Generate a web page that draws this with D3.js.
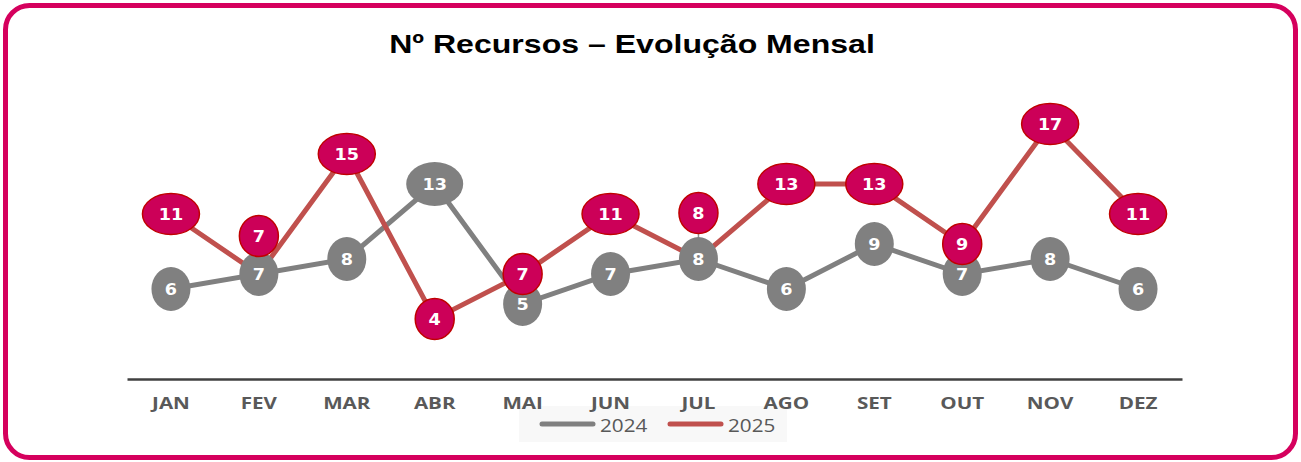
<!DOCTYPE html>
<html>
<head>
<meta charset="utf-8">
<script src="https://cdn.jsdelivr.net/npm/d3@7"></script>
<style>
  html, body { margin: 0; padding: 0; background: #fff; }
  svg { display: block; }
</style>
</head>
<body>
<div id="chart"></div>
<script>
// data
const months = ["JAN", "FEV", "MAR", "ABR", "MAI", "JUN", "JUL", "AGO", "SET", "OUT", "NOV", "DEZ"];
const values2024 = [6, 7, 8, 13, 5, 7, 8, 6, 9, 7, 8, 6];
const values2025 = [11, 7, 15, 4, 7, 11, 8, 13, 13, 9, 17, 11];
const seriesNames = ["2024", "2025"];
const chartTitle = "Nº Recursos – Evolução Mensal";

// labels that were dragged off their point in the original (px upward shift)
const labelShift2025 = { FEV: -38, JUL: -46 };

const width = 1301, height = 462;
const svg = d3.select("#chart").append("svg")
    .attr("width", width)
    .attr("height", height);

// frame
svg.append("rect")
    .attr("x", 5.5).attr("y", 5.5)
    .attr("width", width - 11).attr("height", height - 10)
    .attr("rx", 24).attr("ry", 24)
    .attr("fill", "#fff")
    .attr("stroke", "#d5005d")
    .attr("stroke-width", 5);

// the original picture is stretched sideways, so texts get a small x scale
svg.append("text")
    .attr("transform", "translate(632,53) scale(1.21,1)")
    .attr("text-anchor", "middle")
    .attr("font-family", "Liberation Sans, Arial, sans-serif")
    .attr("font-weight", "bold")
    .attr("font-size", 26.5)
    .attr("fill", "#000")
    .text(chartTitle);

let x = d3.scaleBand().domain(months).range([127, 1182]);
let y = d3.scaleLinear().domain([0, 20]).range([379, 79]);
let cx = d => x(d) + x.bandwidth() / 2;

// legend box first, month labels show through on top of it
let legend = svg.append("g");
legend.append("rect")
    .attr("x", 519).attr("y", 406).attr("width", 268).attr("height", 36)
    .attr("fill", "#f8f8f8");

// category axis
let axis = svg.append("g")
    .attr("transform", "translate(0,379)")
    .call(d3.axisBottom(x).tickSize(0).tickPadding(0));
axis.select(".domain").attr("stroke", "#404040").attr("stroke-width", 2.5);
axis.selectAll("text")
    .attr("dy", null)
    .attr("y", 30.5)
    .attr("transform", "scale(1.25,1)")
    .attr("font-family", "Open Sans, sans-serif")
    .attr("font-weight", "bold")
    .attr("font-size", 16.5)
    .attr("fill", "#595959");

let data24 = months.map((m, i) => ({ m: m, v: values2024[i] }));
let data25 = months.map((m, i) => ({ m: m, v: values2025[i] }));

let line = d3.line().x(d => cx(d.m)).y(d => y(d.v));

svg.append("path").datum(data24)
    .attr("d", line).attr("fill", "none")
    .attr("stroke", "#808080").attr("stroke-width", 5);
svg.append("path").datum(data25)
    .attr("d", line).attr("fill", "none")
    .attr("stroke", "#c0504d").attr("stroke-width", 5);

// leader line for the label that sits far from its point
svg.selectAll(".leader")
    .data(data25.filter(d => labelShift2025[d.m] && labelShift2025[d.m] < -40))
    .enter().append("line")
    .attr("x1", d => cx(d.m)).attr("x2", d => cx(d.m))
    .attr("y1", d => y(d.v) + labelShift2025[d.m] + 20)
    .attr("y2", d => y(d.v) - 18)
    .attr("stroke", "#909090").attr("stroke-width", 1.5);

function labels(data, cls, fill, stroke, ry, shift) {
    let g = svg.selectAll("." + cls).data(data).enter().append("g")
        .attr("class", cls)
        .attr("transform", d => `translate(${cx(d.m)},${y(d.v) + (shift[d.m] || 0)})`);
    g.append("ellipse")
        .attr("rx", d => String(d.v).length > 1 ? 28.5 : 19.5)
        .attr("ry", ry)
        .attr("fill", fill)
        .attr("stroke", stroke)
        .attr("stroke-width", stroke == "none" ? 0 : 1.5);
    g.append("text")
        .attr("y", 6)
        .attr("transform", "scale(1.1,1)")
        .attr("text-anchor", "middle")
        .attr("font-family", "DejaVu Sans, Verdana, sans-serif")
        .attr("font-weight", "bold")
        .attr("font-size", 16)
        .attr("fill", "#fff")
        .text(d => d.v);
}

labels(data24, "l24", "#808080", "none", 22, {});
labels(data25, "l25", "#cc0058", "#c00000", 20.5, labelShift2025);

// legend entries
let legendColors = ["#808080", "#c0504d"];
let lx = d3.scalePoint().domain(seriesNames).range([540, 668]);
seriesNames.forEach((s, i) => {
    legend.append("line")
        .attr("x1", lx(s) + 2).attr("x2", lx(s) + 53)
        .attr("y1", 424).attr("y2", 424)
        .attr("stroke", legendColors[i]).attr("stroke-width", 5)
        .attr("stroke-linecap", "round");
    legend.append("text")
        .attr("transform", `translate(${lx(s) + 60},432) scale(1.15,1)`)
        .attr("font-family", "Open Sans, sans-serif")
        .attr("font-size", 18)
        .attr("fill", "#595959")
        .text(s);
});
</script>
</body>
</html>
